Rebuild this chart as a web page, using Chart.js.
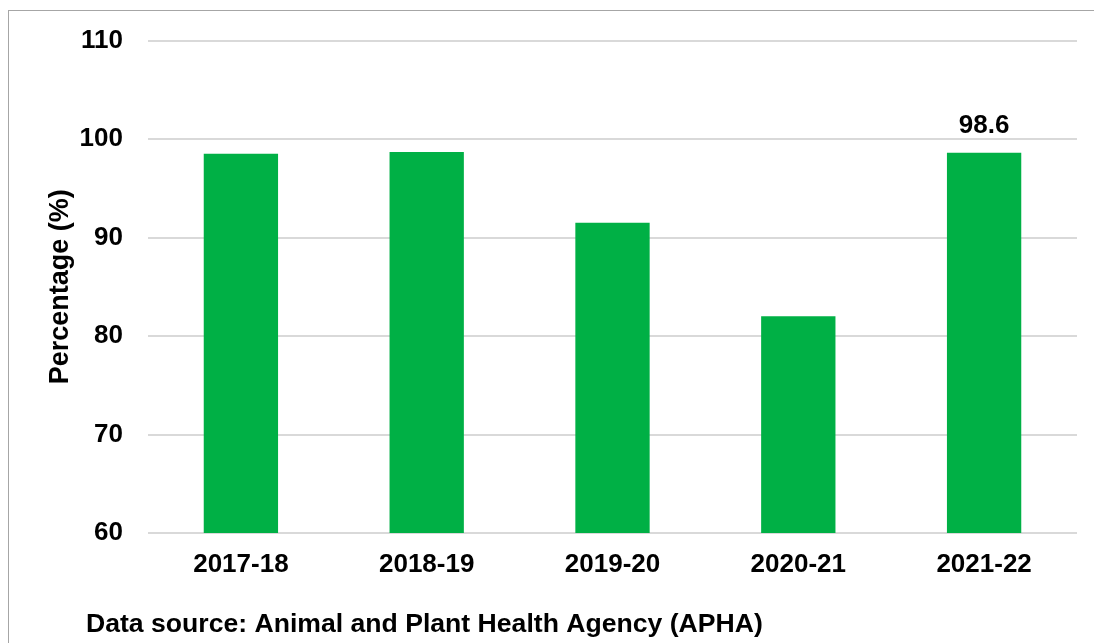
<!DOCTYPE html>
<html>
<head>
<meta charset="utf-8">
<script src="https://cdn.jsdelivr.net/npm/chart.js@4/dist/chart.umd.min.js"></script>
<style>
  body { margin: 0; background: #fff; }
  #wrap { position: relative; width: 1094px; height: 643px; overflow: hidden; }
  #frame { position: absolute; left: 8px; top: 10px; width: 1200px; height: 700px;
           border-left: 1px solid #a6a6a6; border-top: 1px solid #a6a6a6; }
  #chart { position: absolute; left: 0; top: 0; }
</style>
</head>
<body>
<div id="wrap">
  <div id="frame"></div>
  <canvas id="chart" width="1094" height="643"></canvas>
</div>
<script>
// years shown on the x axis
const years = ['2017-18', '2018-19', '2019-20', '2020-21', '2021-22'];
// percentage per year
const percent = [98.5, 98.7, 91.5, 82.0, 98.6];
// only the last bar carries a value label
const labelled = [4];
const source_note = 'Data source: Animal and Plant Health Agency (APHA)';

const font_name = '"Liberation Sans", Arial, sans-serif';

// value label above the chosen bars + source note under the chart
const extra_text = {
    id: 'extra_text',
    afterDatasetsDraw(chart) {
        const ctx = chart.ctx;
        const meta = chart.getDatasetMeta(0);
        ctx.save();
        ctx.fillStyle = '#000';
        ctx.font = 'bold 26px ' + font_name;
        ctx.textAlign = 'center';
        ctx.textBaseline = 'bottom';
        labelled.forEach(i => {
            const bar = meta.data[i];
            ctx.fillText(percent[i].toFixed(1), bar.x, bar.y - 14);
        });
        ctx.font = 'bold 26.6px ' + font_name;
        ctx.textAlign = 'left';
        ctx.textBaseline = 'middle';
        ctx.fillText(source_note, 86, 625);
        ctx.restore();
    }
};

new Chart(document.getElementById('chart'), {
    type: 'bar',
    data: {
        labels: years,
        datasets: [{
            data: percent,
            backgroundColor: '#00b045',
            borderWidth: 0,
            categoryPercentage: 1.0,
            barPercentage: 0.4,
        }]
    },
    options: {
        responsive: false,
        animation: false,
        devicePixelRatio: 1,
        layout: { padding: { top: 39, right: 17, left: 0, bottom: 0 } },
        plugins: { legend: { display: false }, tooltip: { enabled: false } },
        scales: {
            x: {
                grid: { display: false },
                border: { display: false },
                ticks: {
                    color: '#000',
                    padding: 8,
                    font: { family: font_name, size: 26, weight: 'bold' }
                },
                afterFit(scale) { scale.height = 110; }
            },
            y: {
                min: 60,
                max: 110,
                ticks: {
                    stepSize: 10,
                    color: '#000',
                    padding: 25,
                    font: { family: font_name, size: 26, weight: 'bold' }
                },
                grid: { color: '#d9d9d9', lineWidth: 2, drawTicks: false },
                border: { display: false },
                title: {
                    display: true,
                    text: 'Percentage (%)',
                    color: '#000',
                    padding: { top: 44, bottom: 0 },
                    font: { family: font_name, size: 27, weight: 'bold' }
                },
                afterFit(scale) { scale.width = 148; }
            }
        }
    },
    plugins: [extra_text]
});
</script>
</body>
</html>
